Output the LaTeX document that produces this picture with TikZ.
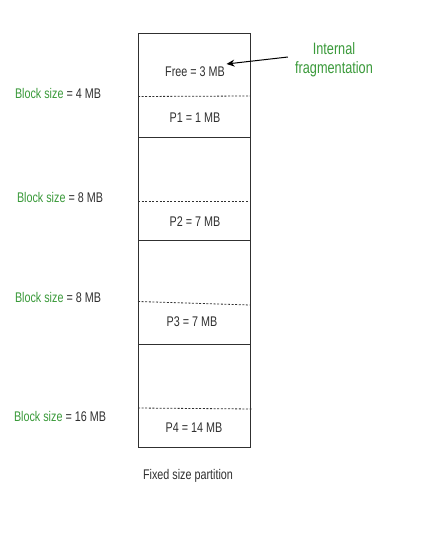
\documentclass[tikz,border=0pt]{standalone}
\usepackage{fontspec}
\setmainfont{Liberation Sans}[FakeStretch=0.77]
\usetikzlibrary{arrows.meta}
\definecolor{txt}{HTML}{303030}
\definecolor{grn}{HTML}{3A9A3A}
\begin{document}
\begin{tikzpicture}[x=1pt,y=-1pt,
  blk/.style={draw=txt,line width=0.9pt,minimum width=112pt,inner sep=0pt,anchor=north west},
  lbl/.style={text=txt,font=\fontsize{14}{16}\selectfont,inner sep=1pt},
  side/.style={text=txt,font=\fontsize{14}{16}\selectfont,inner sep=1pt},
  dsh/.style={draw=txt,line width=0.8pt,dash pattern=on 2pt off 1.6pt}]
\useasboundingbox (0,0) rectangle (420,551);
\fill[white] (0,0) rectangle (420,551);
% blocks
\node[blk,minimum height=104pt] (b1) at (138,33) {};
\node[blk,minimum height=103pt] (b2) at (138,137) {};
\node[blk,minimum height=104pt] (b3) at (138,240) {};
\node[blk,minimum height=103pt] (b4) at (138,344) {};
% dashed separators
\coordinate (d1a) at (138,96.5); \coordinate (d1b) at (250,96);
\coordinate (d2a) at (138,201); \coordinate (d2b) at (250,201);
\coordinate (d3a) at (138,301.5); \coordinate (d3b) at (250,305);
\coordinate (d4a) at (138,408); \coordinate (d4b) at (253,409);
\draw[dsh] (d1a) -- (d1b);
\draw[dsh] (d2a) -- (d2b);
\draw[dsh] (d3a) -- (d3b);
\draw[dsh] (d4a) -- (d4b);
% inner labels
\node[lbl] (free) at (195,72) {Free = 3 MB};
\node[lbl] (p1) at (195,118) {P1 = 1 MB};
\node[lbl] (p2) at (195,222) {P2 = 7 MB};
\node[lbl] (p3) at (192,322) {P3 = 7 MB};
\node[lbl] (p4) at (194,428) {P4 = 14 MB};
% side labels
\node[side] (s1) at (58,93) {\textcolor{grn}{Block size} = 4 MB};
\node[side] (s2) at (60,197) {\textcolor{grn}{Block size} = 8 MB};
\node[side] (s3) at (58,297) {\textcolor{grn}{Block size} = 8 MB};
\node[side] (s4) at (60,416) {\textcolor{grn}{Block size} = 16 MB};
% caption
\node[lbl] (cap) at (188,476) {Fixed size partition};
% internal fragmentation
\node[text=grn,font=\fontsize{16.5}{19}\selectfont,align=center,inner sep=1pt] (frag) at (334,59.5) {Internal\\fragmentation};
\draw[draw=black,line width=1pt,-{Stealth[length=8pt,width=7pt]}]
  ([xshift=-6pt,yshift=2.5pt]frag.west) -- ([xshift=0.5pt,yshift=8pt]free.east);
\end{tikzpicture}
\end{document}
